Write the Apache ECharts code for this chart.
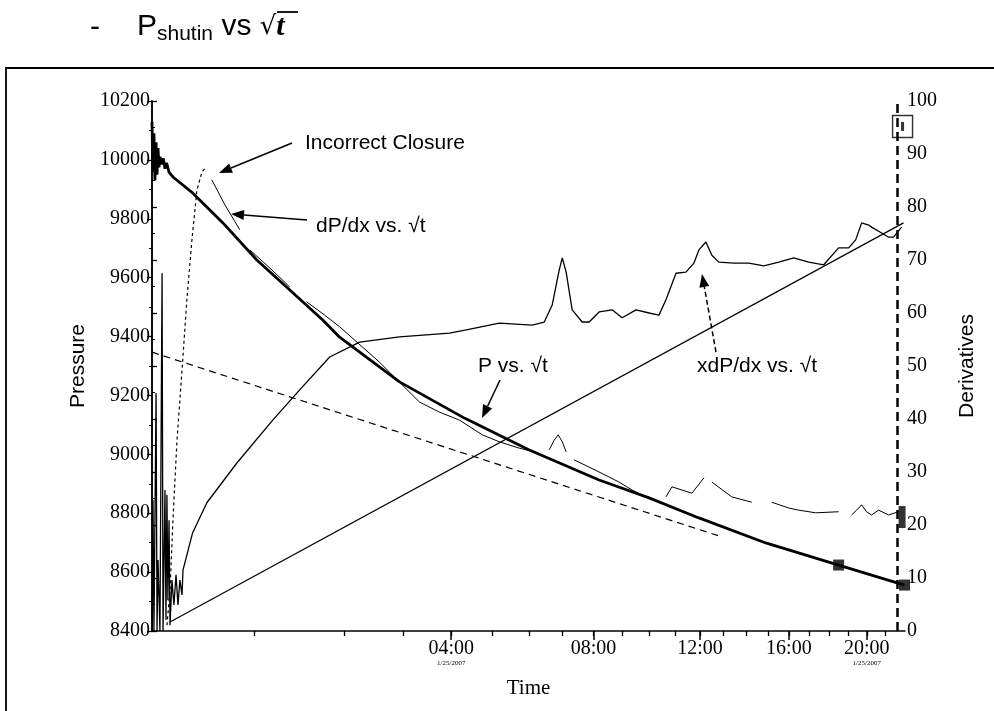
<!DOCTYPE html>
<html><head><meta charset="utf-8">
<script src="https://cdn.jsdelivr.net/npm/echarts@6/dist/echarts.min.js"></script>
<style>html,body{margin:0;padding:0;background:#fff}#c{width:994px;height:711px}</style>
</head><body><div id="c"></div>
<script>
// x axis is sqrt(hours since shut-in); shut-in clock hour:
const SHUTIN_HOUR = 0.6;
const hourTicks = [1,2,3,4,5,6,7,8,9,10,11,12,13,14,15,16,17,18,19,20,21];
const hourLabels = [4,8,12,16,20];
const labelDate = '1/25/2007';
const datedLabels = [4,20];

// P vs sqrt(t)  [sqrt(h), psi]
const pressure = [[0.000,10130],[0.006,9960],[0.012,10090],[0.018,9930],[0.025,10060],[0.031,9950],[0.037,10040],[0.043,9975],[0.049,10010],[0.060,9985],[0.070,10005],[0.080,9970],[0.090,9990],[0.105,9958],[0.129,9942],[0.252,9887],[0.437,9786],[0.646,9660],[0.849,9558],[1.052,9456],[1.156,9398],[1.525,9246],[1.925,9123],[2.325,9015],[2.755,8913],[3.063,8852],[3.370,8784],[3.782,8699],[4.231,8624],[4.637,8556]];
const pressureMarkers = [[4.231,8624],[4.637,8556]];

// xdP/dx vs sqrt(t)  (right axis)
const xdpdx = [[0.000,0],[0.006,24.7],[0.012,0],[0.025,44.9],[0.031,0],[0.037,13.4],[0.049,0],[0.062,67.5],[0.068,0],[0.080,26.6],[0.086,2.1],[0.092,25.7],[0.098,5.8],[0.105,20.9],[0.111,1.1],[0.123,9.6],[0.135,4.9],[0.148,10.6],[0.160,4.9],[0.172,9.6],[0.185,6.8],[0.191,11.5],[0.250,18.5],[0.338,24.2],[0.523,31.7],[0.744,39.8],[0.910,45.5],[1.095,51.7],[1.279,54.5],[1.525,55.5],[1.833,56.2],[1.937,56.8],[2.140,58.1],[2.343,57.7],[2.417,58.3],[2.466,61.5],[2.509,68.1],[2.528,70.4],[2.552,67.7],[2.589,60.6],[2.651,58.3],[2.694,58.3],[2.755,60.2],[2.835,60.6],[2.897,59.1],[2.983,60.6],[3.063,60.0],[3.124,59.6],[3.167,62.5],[3.229,67.5],[3.290,67.7],[3.339,69.4],[3.370,71.9],[3.413,73.4],[3.450,70.9],[3.493,69.6],[3.586,69.4],[3.678,69.4],[3.770,68.9],[3.862,69.6],[3.954,70.4],[4.047,69.6],[4.139,69.1],[4.231,72.3],[4.293,72.3],[4.336,73.8],[4.373,77.0],[4.416,76.6],[4.434,76.2],[4.496,75.1],[4.539,74.3],[4.569,74.3],[4.619,76.2]];
const xdpdxFit = [[0.111,1.7],[4.631,77.0]];

// dP/dx vs sqrt(t) (right axis): early dashed part, then broken segments
const dpdxEarly = [[0.092,1.1],[0.111,7.7],[0.129,20.9],[0.154,36.0],[0.185,49.2],[0.215,62.5],[0.246,73.8],[0.277,83.2],[0.308,86.6],[0.332,87.5]];
const dpdxSeg1 = [[0.369,85.1],[0.449,80.4],[0.541,75.7]];
const dpdxSeg2 = [[0.603,71.9],[0.726,68.5],[0.849,64.9]];
const dpdxSeg3 = [[0.953,62.1],[1.064,59.6],[1.156,57.4],[1.399,50.8],[1.648,43.2],[1.771,41.3],[1.894,39.8],[2.036,37.0],[2.140,35.7],[2.263,34.5],[2.355,33.8]];
const dpdxSeg4 = [[2.448,34.2],[2.478,36.0],[2.503,37.0],[2.528,35.7],[2.552,33.8]];
const dpdxSeg5 = [[2.601,32.3],[2.755,30.0],[2.878,28.1],[2.958,26.6],[3.044,25.3]];
const dpdxSeg6 = [[3.167,25.3],[3.204,27.2],[3.327,26.0],[3.401,28.9]];
const dpdxSeg7 = [[3.450,28.1],[3.573,25.3],[3.696,24.3]];
const dpdxSeg8 = [[3.819,24.3],[3.924,23.2],[3.985,22.8],[4.090,22.3],[4.231,22.5]];
const dpdxSeg9 = [[4.311,21.9],[4.342,22.8],[4.373,23.8],[4.403,22.5],[4.434,21.9],[4.477,22.8],[4.539,21.9],[4.600,22.5]];
const dpdxEndMarker = [[4.622,21.5]];

// straight-line (dashed) through early pressure (left axis)
const pressureTangent = [[0.000,9347],[3.493,8723]];

// closure pick (vertical dashed line) and its box marker (right axis)
const closureX = 4.588;
const closureBox = [[4.625,95.2]];

const chart = echarts.init(document.getElementById('c'));
const SERIF = '"Liberation Serif","Times New Roman",serif';
const SANS = '"Liberation Sans",Arial,sans-serif';
const toX = h => Math.sqrt(h - SHUTIN_HOUR);
const fmtHour = v => { const h = Math.round(v*v + SHUTIN_HOUR); return (h<10?'0':'')+h+':00'; };

function lineSeries(data, yi, width, type, z){
  return {type:'line', data, yAxisIndex:yi, xAxisIndex:0, showSymbol:false, symbol:'none', silent:true, animation:false, z:z||2,
    lineStyle:{color:'#000', width, type:type||'solid'}};
}
const dpdxSegs = [dpdxSeg1,dpdxSeg2,dpdxSeg3,dpdxSeg4,dpdxSeg5,dpdxSeg6,dpdxSeg7,dpdxSeg8,dpdxSeg9];

const series = [
  lineSeries(pressureTangent, 0, 1.2, [7,5]),
  lineSeries(xdpdx, 1, 1.3),
  lineSeries(xdpdxFit, 1, 1.2),
  lineSeries(dpdxEarly, 1, 1.2, [3,3]),
  ...dpdxSegs.map(s => lineSeries(s, 1, 1.0)),
  Object.assign(lineSeries(pressure, 0, 2.8, 'solid', 5), {
    markLine:{silent:true, symbol:['none','none'], label:{show:false},
      lineStyle:{color:'#000', width:2.5, type:[9,5]}, data:[{xAxis:closureX}]}
  }),
  {type:'scatter', data:pressureMarkers, yAxisIndex:0, symbol:'rect', symbolSize:11, itemStyle:{color:'#000'}, z:6, silent:true, animation:false},
  {type:'scatter', data:dpdxEndMarker, yAxisIndex:1, symbol:'rect', symbolSize:[7,22], itemStyle:{color:'#000'}, z:6, silent:true, animation:false},
  {type:'scatter', data:closureBox, yAxisIndex:1, symbol:'rect', symbolSize:[20,22], itemStyle:{color:'rgba(0,0,0,0)', borderColor:'#000', borderWidth:1.5}, z:6, silent:true, animation:false},
  {type:'scatter', data:closureBox, yAxisIndex:1, symbol:'rect', symbolSize:[3,9], itemStyle:{color:'#000'}, z:6, silent:true, animation:false}
];

const option = {
  animation:false,
  backgroundColor:'#fff',
  grid:{left:152, right:89, top:101, bottom:80, containLabel:false},
  xAxis:[
    {type:'value', min:0, max:4.64, position:'bottom',
     axisLine:{show:true, lineStyle:{color:'#000', width:1.5}},
     axisTick:{show:true, customValues:hourTicks.map(toX), length:5, lineStyle:{color:'#000', width:1.3}},
     axisLabel:{show:true, customValues:hourLabels.map(toX), color:'#000', fontFamily:SERIF, fontSize:20, margin:9, lineHeight:18,
       formatter:v => { const h = Math.round(v*v + SHUTIN_HOUR); return datedLabels.includes(h) ? fmtHour(v)+'\n{d|'+labelDate+'}' : fmtHour(v); },
       rich:{d:{fontSize:7, fontFamily:SERIF, color:'#000', lineHeight:10}}},
     splitLine:{show:false},
     name:'Time', nameLocation:'middle', nameGap:47, nameTextStyle:{fontFamily:SERIF, fontSize:21, color:'#000'}},
    {type:'value', min:0, max:4.64, position:'bottom', gridIndex:0,
     axisLine:{show:false},
     axisTick:{show:true, customValues:hourLabels.map(toX), length:9, lineStyle:{color:'#000', width:1.5}},
     axisLabel:{show:false}, splitLine:{show:false}}
  ],
  yAxis:[
    {type:'value', min:8400, max:10200, interval:200, position:'left',
     axisLine:{show:true, lineStyle:{color:'#000', width:1.5}},
     axisTick:{show:true, length:5, lineStyle:{color:'#000', width:1.3}},
     minorTick:{show:true, splitNumber:2, length:3, lineStyle:{color:'#000', width:1}},
     axisLabel:{color:'#000', fontFamily:SERIF, fontSize:20, margin:2, formatter:v => String(v)},
     splitLine:{show:false},
     name:'Pressure', nameLocation:'middle', nameGap:58, nameRotate:90, nameTextStyle:{fontFamily:SANS, fontSize:21, color:'#000'}},
    {type:'value', min:0, max:100, interval:10, position:'right',
     axisLine:{show:true, lineStyle:{color:'#000', width:1.5}},
     axisTick:{show:true, length:5, lineStyle:{color:'#000', width:1.3}},
     minorTick:{show:true, splitNumber:2, length:3, lineStyle:{color:'#000', width:1}},
     axisLabel:{color:'#000', fontFamily:SERIF, fontSize:20, margin:2, formatter:v => String(v)},
     splitLine:{show:false},
     name:'Derivatives', nameLocation:'middle', nameGap:52, nameRotate:90, nameTextStyle:{fontFamily:SANS, fontSize:21, color:'#000'}}
  ],
  series
};
chart.setOption(option);

// annotations (text + arrows) and page frame / title
function arrow(x1,y1,x2,y2,dashed){
  const a = Math.atan2(y2-y1, x2-x1), L = 13, W = 5;
  const bx = x2 - L*Math.cos(a), by = y2 - L*Math.sin(a);
  const px = -Math.sin(a)*W, py = Math.cos(a)*W;
  return [
    {type:'line', shape:{x1,y1,x2:bx,y2:by}, style:{stroke:'#000', lineWidth:1.5, lineDash:dashed?[5,3]:null}, silent:true},
    {type:'polygon', shape:{points:[[x2,y2],[bx+px,by+py],[bx-px,by-py]]}, style:{fill:'#000'}, silent:true}
  ];
}
const annFont = '21px '+SANS;
const graphic = [
  {type:'rect', shape:{x:6,y:68,width:1000,height:700}, style:{fill:null, stroke:'#000', lineWidth:1.8}, silent:true, z:-1},
  {type:'text', style:{x:90, y:28, text:'-', font:'30px '+SANS, fill:'#000', textVerticalAlign:'middle'}},
  {type:'text', style:{x:137, y:27, text:'{p|P}{s|shutin}{p| vs }{r|√}{t|t}', textVerticalAlign:'middle',
    rich:{p:{fontSize:30, fontFamily:SANS, fill:'#000'}, s:{fontSize:21, fontFamily:SANS, fill:'#000', padding:[14,0,0,0]},
          r:{fontSize:26, fontFamily:'"DejaVu Sans",sans-serif', fill:'#000'}, t:{fontSize:30, fontFamily:SERIF, fontStyle:'italic', fontWeight:'bold', fill:'#000'}}}},
  {type:'line', shape:{x1:277,y1:12,x2:298,y2:12}, style:{stroke:'#000', lineWidth:1.8}},
  {type:'text', style:{x:305, y:143, text:'Incorrect Closure', font:annFont, fill:'#000', textVerticalAlign:'middle'}},
  ...arrow(292,143,219,173),
  {type:'text', style:{x:316, y:226, text:'dP/dx vs. √t', font:annFont, fill:'#000', textVerticalAlign:'middle'}},
  ...arrow(307,220,231,214),
  {type:'text', style:{x:478, y:366, text:'P vs. √t', font:annFont, fill:'#000', textVerticalAlign:'middle'}},
  ...arrow(500,380,482,418),
  {type:'text', style:{x:697, y:366, text:'xdP/dx vs. √t', font:annFont, fill:'#000', textVerticalAlign:'middle'}},
  ...arrow(716,352,702,274,true)
];
chart.setOption({graphic});
</script></body></html>
